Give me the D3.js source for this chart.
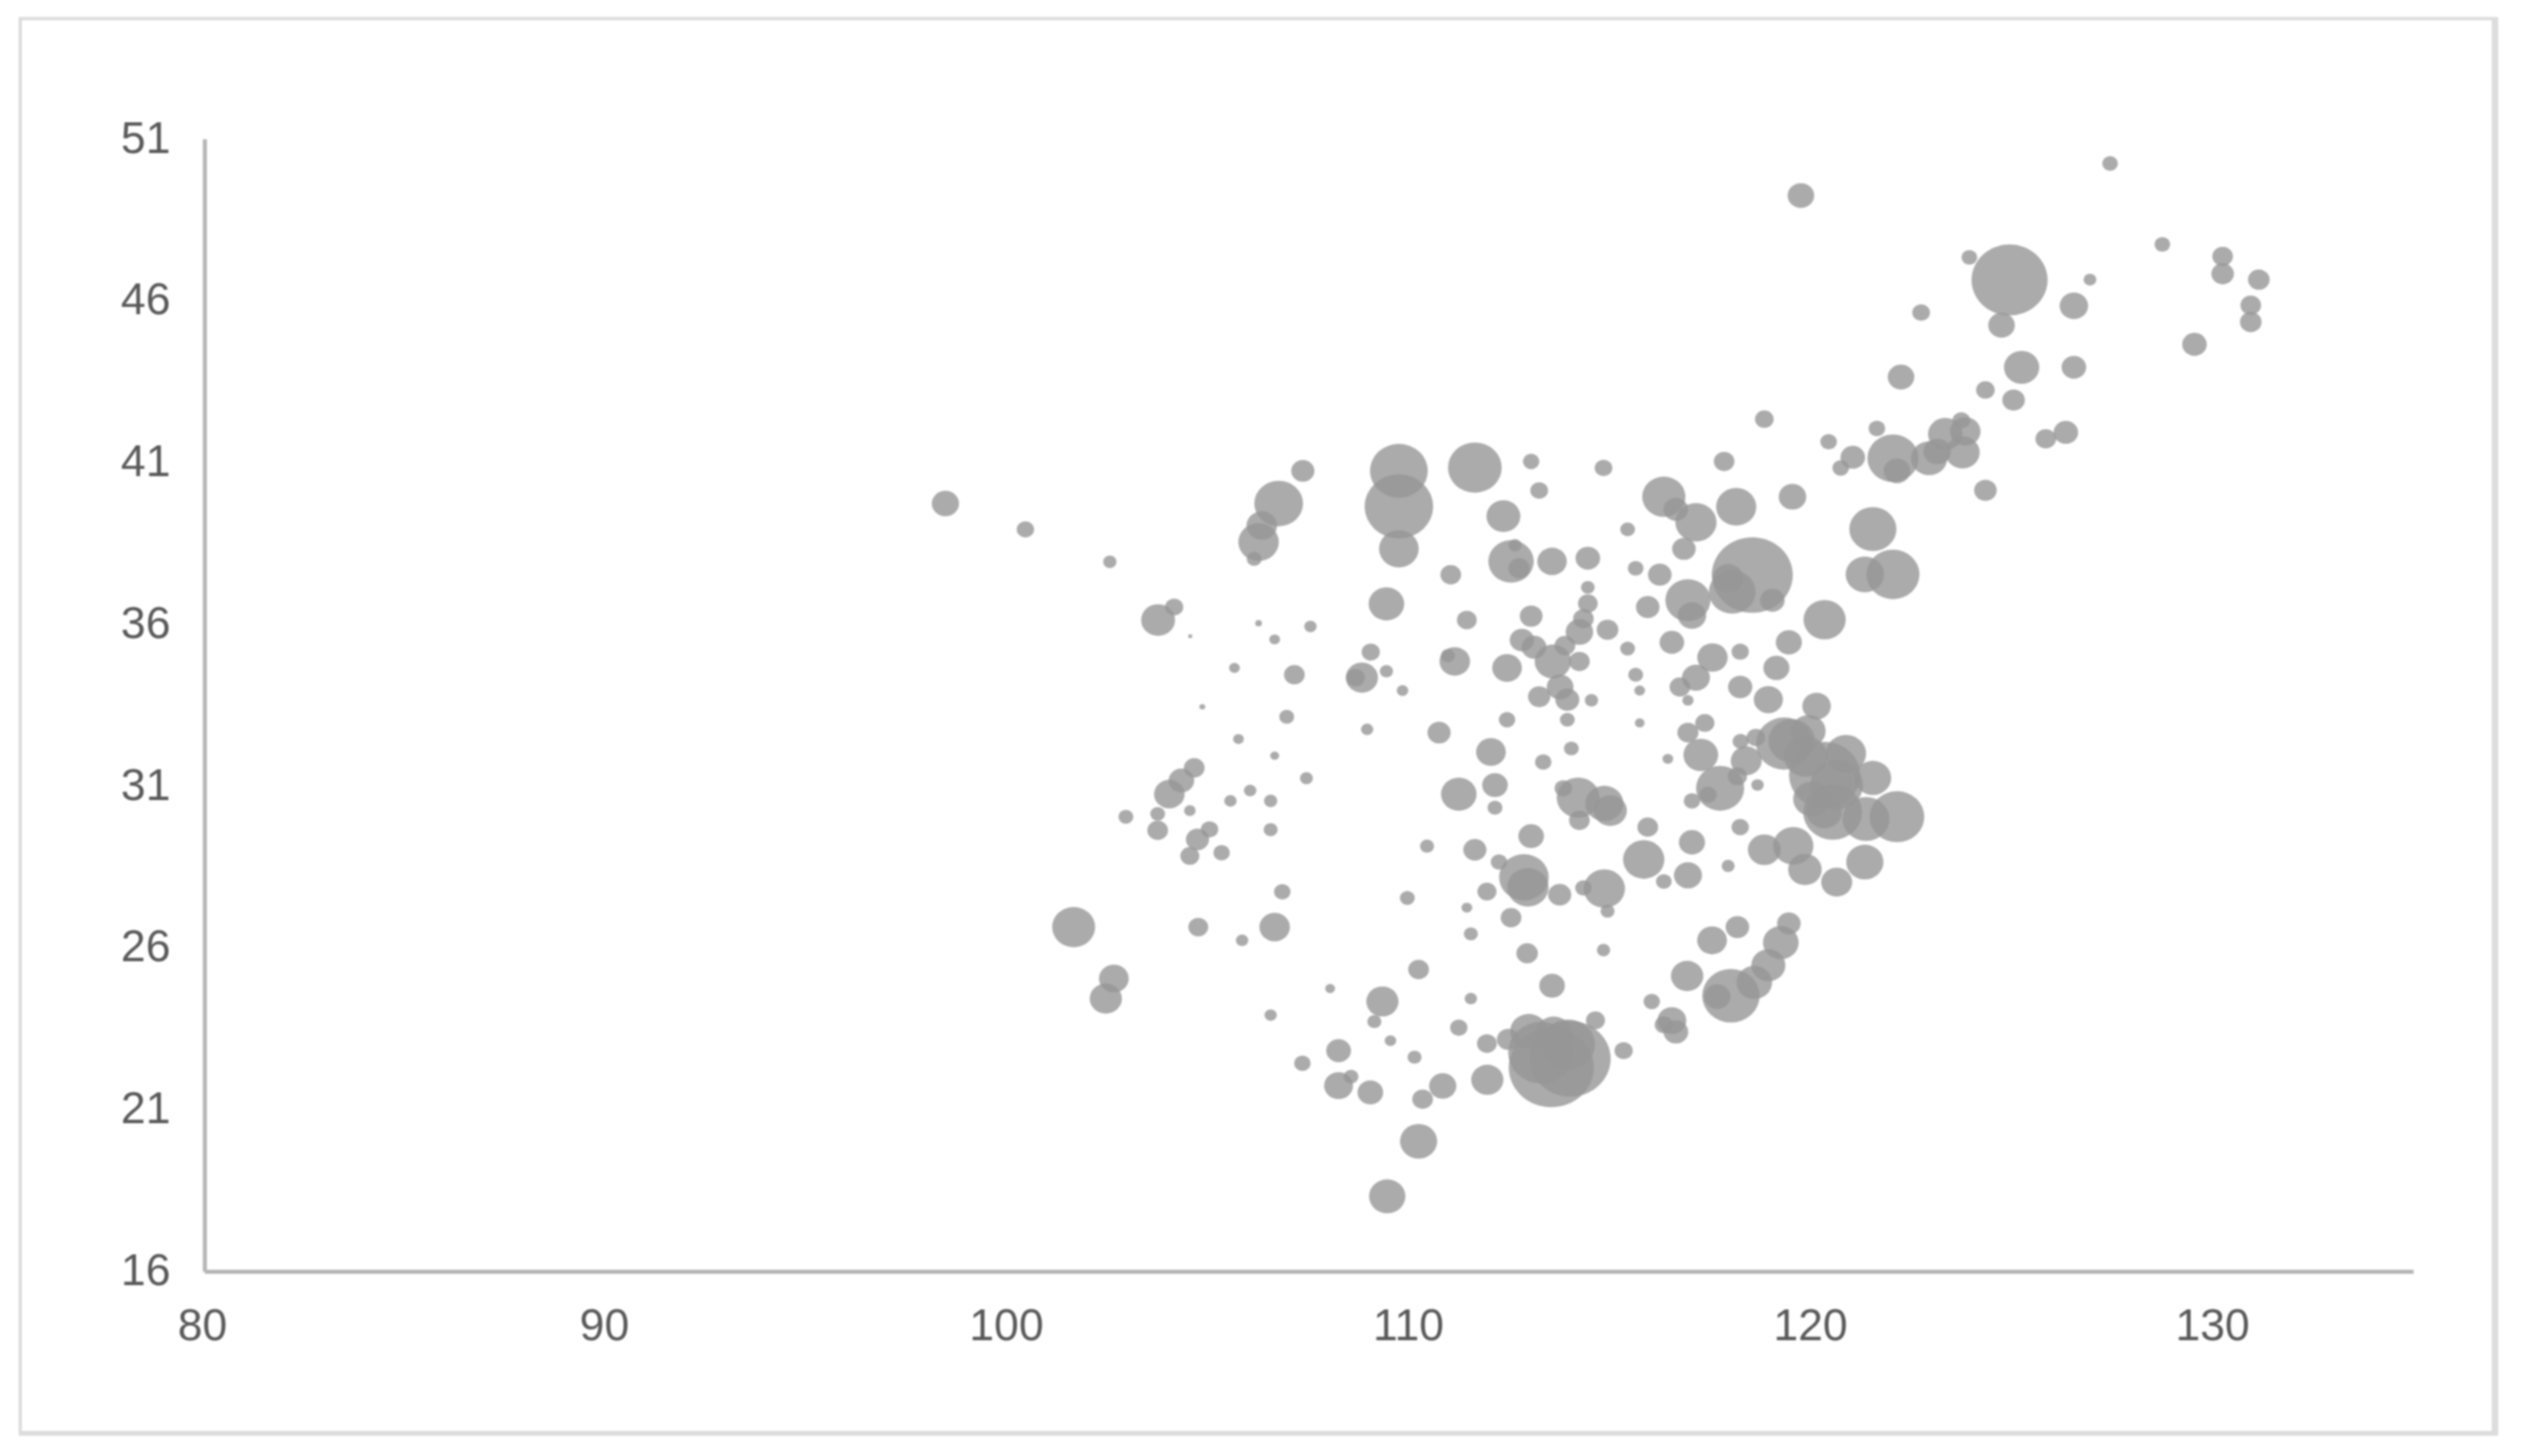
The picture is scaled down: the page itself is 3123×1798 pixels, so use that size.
<!DOCTYPE html>
<html>
<head>
<meta charset="utf-8">
<script src="https://cdnjs.cloudflare.com/ajax/libs/d3/7.8.5/d3.min.js"></script>
<style>
    html,body{margin:0;padding:0;background:#fff;}
    svg{display:block;filter:blur(0.9px);}
    .axis text{font-family:"Liberation Sans",Arial,sans-serif;font-size:55px;fill:#595959;}
    .axis path{stroke:#b5b5b5;stroke-width:5px;}
</style>
</head>
<body>
<div id="chart"></div>
<script>
// values, one bubble per position across the three arrays
var xTicks = [80,90,100,110,120,130];
var yTicks = [16,21,26,31,36,41,46,51];
var lon = [
    98.43,100.42,102.52,107.32,106.72,106.3,106.22,106.11,109.71,109.71,109.71,111.6,113.0,112.31,113.2,112.5,112.6,112.7,111.0,109.4,111.4,113.0,104.12,103.72,106.22,104.52,107.51,106.62,
    109.01,109.4,108.79,108.63,109.8,105.62,107.11,111.1,110.93,112.4,112.77,113.07,113.54,113.84,114.2,115.4,113.72,113.9,113.2,114.5,113.9,112.4,115.6,115.7,115.7,116.7,116.9,104.82,106.92,108.92,110.71,112.0,113.3,114.0,116.4,116.9,105.72,106.62,107.41,104.62,104.3,104.0,106.01,105.52,106.52,104.51,103.71,102.92,103.71,105.0,104.7,104.51,105.3,106.52,
    111.2,112.1,112.1,110.41,111.6,113.0,114.17,113.8,114.82,114.97,114.2,115.9,117.0,117.0,115.8,116.3,116.9,112.82,112.92,112.2,111.9,113.71,114.82,114.3,114.9,109.92,111.4,112.5,111.5,106.81,101.62,104.72,105.81,106.62,112.9,114.8,110.2,113.52,116.88,102.62,102.42,108.0,109.3,111.5,116.0,106.52,109.1,111.2,109.5,114.6,111.9,108.21,110.1,107.31,115.3,116.5,116.3,116.6,
    108.21,108.52,109.0,110.8,110.3,111.91,110.2,109.42,113.5,113.97,113.25,112.94,112.43,113.92,113.56,
    127.4,119.71,128.7,130.2,130.2,131.1,130.9,130.9,129.5,126.9,123.9,124.9,124.7,126.5,122.7,122.2,125.2,126.5,124.3,125.0,118.8,120.4,121.6,126.3,125.8,123.7,123.3,123.8,123.73,122.9,123.1,122.0,122.1,121.0,120.7,124.3,117.8,114.8,116.3,116.6,117.1,118.1,119.5,115.4,116.8,121.5,122.0,121.3,118.5,117.9,118.0,116.9,117.0,119.0,120.3,113.52,114.41,115.6,116.2,114.41,114.41,114.3,114.2,114.9,115.9,116.5,
    117.51,118.2,119.41,119.1,118.2,118.9,120.1,117.1,117.32,117.22,117.7,117.4,118.21,118.59,118.35,118.13,118.63,119.29,119.48,119.9,119.83,120.3,120.83,120.6,121.5,119.98,120.29,120.5,121.33,122.1,119.52,118.8,119.81,120.6,121.3,118.2,117.9,119.41,119.21,118.9,118.55,117.97,117.63,118.13,117.5
];
var lat = [
    39.73,38.93,37.93,40.74,39.73,39.05,38.54,38.02,40.74,39.64,38.33,40.84,41.03,39.34,40.13,37.94,38.44,37.73,37.53,36.63,36.13,36.25,36.53,36.13,36.03,35.63,35.93,35.53,
    35.14,34.55,34.35,34.35,33.95,34.65,34.44,34.85,35.03,34.65,35.51,35.29,34.85,35.34,34.85,35.25,34.06,33.67,33.76,33.65,33.05,33.05,34.44,33.95,32.95,34.06,33.65,33.45,33.14,32.75,32.65,32.05,31.74,32.16,31.84,32.65,32.45,31.94,31.24,31.56,31.17,30.75,30.86,30.54,30.54,30.24,30.14,30.05,29.63,29.66,29.35,28.84,28.94,29.65,
    30.75,31.03,30.33,29.14,29.03,29.45,30.64,30.93,30.46,30.24,29.94,29.73,30.54,29.26,28.73,28.05,28.24,28.18,27.87,28.65,27.74,27.64,27.83,27.85,27.13,27.54,27.24,26.93,26.43,27.73,26.64,26.64,26.23,26.64,25.83,25.93,25.33,24.83,25.13,25.05,24.43,24.74,24.34,24.43,24.34,23.92,23.72,23.53,23.13,23.76,23.04,22.82,22.62,22.43,22.82,23.75,23.62,23.4,
    21.74,22.02,21.53,21.73,21.32,21.92,20.02,18.32,22.3,22.57,22.76,23.42,23.17,23.01,23.34,
    50.24,49.25,47.74,47.37,46.83,46.65,45.86,45.34,44.65,46.65,47.34,46.64,45.24,45.84,45.63,43.64,43.94,43.94,43.24,42.93,42.34,41.64,42.05,41.93,41.73,42.3,41.88,41.96,41.31,41.13,41.34,41.13,40.74,41.16,40.83,40.14,41.03,40.83,39.94,39.55,39.15,39.63,39.94,38.93,38.33,38.94,37.54,37.54,37.52,37.42,37.0,36.74,36.27,36.74,36.14,37.94,38.04,37.73,37.53,37.14,36.64,36.17,35.76,35.83,36.53,35.44,
    34.97,35.15,35.44,34.65,34.06,33.67,33.47,34.35,32.95,31.96,30.93,30.73,32.38,32.5,31.78,31.3,31.03,32.31,32.4,32.7,31.91,31.34,32.0,31.03,31.25,30.6,30.2,30.19,29.98,30.05,29.15,29.03,28.42,28.03,28.65,29.73,28.53,26.75,26.16,25.46,24.93,24.52,24.49,26.64,26.23
];
var size = [
    283,115,67,204,906,356,625,84,1275,1793,600,1100,104,438,120,787,67,176,163,481,150,197,126,437,17,7,58,44,
    126,67,396,132,51,44,163,356,76,337,225,234,504,163,163,84,272,219,190,67,84,104,84,44,36,163,49,13,84,58,204,337,104,84,44,170,44,31,64,163,250,356,59,59,67,51,84,84,163,115,204,138,104,75,
    481,250,84,75,204,250,704,115,552,416,163,163,104,260,650,94,300,937,650,104,138,204,650,104,75,84,44,163,75,104,704,150,58,356,176,67,163,250,400,337,396,37,396,58,104,58,75,115,51,138,150,234,75,104,126,319,126,234,
    319,84,250,283,163,396,527,504,2756,2500,1666,527,197,1100,527,
    94,268,94,162,194,178,162,178,230,62,94,2206,268,309,119,268,476,230,133,194,133,106,106,230,162,119,450,353,450,502,288,993,268,230,106,194,162,119,711,230,648,617,288,83,212,846,1071,559,2500,353,829,777,309,230,679,331,230,94,212,72,147,162,288,178,212,230,
    353,115,259,259,223,324,311,297,141,460,882,115,100,132,366,141,59,1190,826,444,719,1936,620,1061,511,528,480,1325,841,1136,620,412,428,367,528,115,65,212,485,444,485,1256,265,212,338
];

var width = 3123, height = 1798;
var margin = {left:252.5, right:143, top:171.5, bottom:228};
// the picture is stretched a little sideways, so bubbles come out as ellipses
var squash = 1.07;

var svg = d3.select("#chart").append("svg")
    .attr("width",width)
    .attr("height",height);

svg.append("rect")//outer frame, heavier on the right and bottom like a drop shadow
    .attr("x",23)
    .attr("y",21)
    .attr("width",3062)
    .attr("height",1752)
    .attr("fill","#dcdcdc");
svg.append("rect")
    .attr("x",27)
    .attr("y",25)
    .attr("width",3050)
    .attr("height",1742)
    .attr("fill","#fff");

var x = d3.scaleLinear().domain([80,134.94]).range([margin.left,width-margin.right]);
var y = d3.scaleLinear().domain([16,51]).range([height-margin.bottom,margin.top]);
var r = d3.scaleSqrt().domain([0,2500]).range([0,50]);

var bubbles = lon.map(function(d,i){
    return {lon:d,lat:lat[i],size:size[i]};
});

svg.append("g").selectAll("ellipse")
    .data(bubbles)
    .enter().append("ellipse")
    .attr("cx",function(d){return x(d.lon);})
    .attr("cy",function(d){return y(d.lat);})
    .attr("rx",function(d){return r(d.size);})
    .attr("ry",function(d){return r(d.size)/squash;})
    .attr("fill","#969696")
    .attr("fill-opacity",0.8);

var xAxis = svg.append("g")
    .attr("class","axis")
    .attr("transform","translate(0,"+y(16)+")")
    .call(d3.axisBottom(x).tickValues(xTicks).tickSize(0).tickPadding(46).tickFormat(d3.format("d")));
xAxis.selectAll("text").attr("dx",-3);

var yAxis = svg.append("g")
    .attr("class","axis")
    .attr("transform","translate("+x(80)+",0)")
    .call(d3.axisLeft(y).tickValues(yTicks).tickSize(0).tickPadding(42).tickFormat(d3.format("d")));
yAxis.selectAll("text").attr("dy","0.30em");
</script>
</body>
</html>
